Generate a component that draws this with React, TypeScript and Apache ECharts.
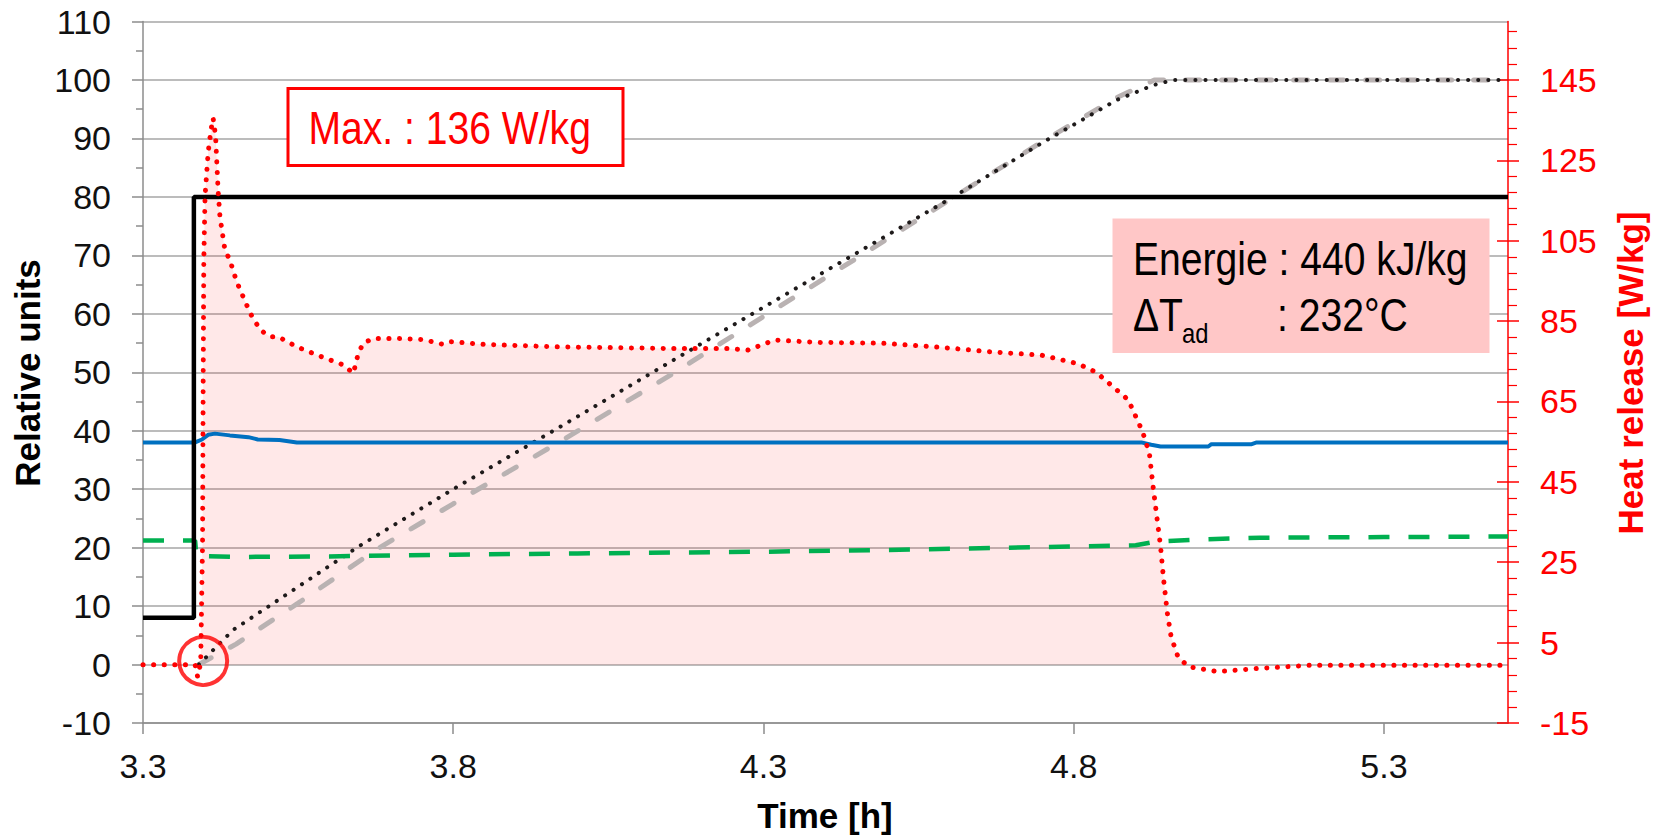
import React, { useEffect, useRef } from 'react';
import * as echarts from 'echarts';

// ---- axis ticks ----
const xTicks = [3.3, 3.8, 4.3, 4.8, 5.3];
const rightTicks = [-15, 5, 25, 45, 65, 85, 105, 125, 145];
const rightMin = -15;
const rightMax = 159.55; // aligned so that 145 W/kg sits on 100 relative units

// ---- black step (setpoint) ----
const stepTime = [3.3, 3.382, 3.382, 5.5];
const stepValue = [8, 8, 80, 80];

// ---- blue solid ----
const blueTime = [3.3, 3.384, 3.395, 3.405, 3.416, 3.44, 3.47, 3.485, 3.52, 3.548, 4.0, 4.5, 4.909, 4.925, 4.94, 5.017, 5.022, 5.087, 5.095, 5.5];
const blueValue = [38, 38, 38.5, 39.3, 39.5, 39.2, 38.9, 38.5, 38.4, 38, 38, 38, 38, 37.6, 37.3, 37.3, 37.7, 37.7, 38, 38];

// ---- green dashed ----
const greenTime = [3.3, 3.384, 3.386, 3.45, 3.6, 3.8, 4.0, 4.3, 4.5, 4.8, 4.9, 4.93, 5.0, 5.1, 5.3, 5.5];
const greenValue = [21.2, 21.2, 18.6, 18.4, 18.5, 18.8, 19.0, 19.3, 19.6, 20.2, 20.4, 21.0, 21.4, 21.7, 21.8, 21.9];

// ---- grey dashed ----
const greyTime = [3.39, 3.45, 3.55, 3.675, 3.8, 3.97, 4.15, 4.277, 4.45, 4.6, 4.75, 4.87, 4.93, 5.0, 5.5];
const greyValue = [0, 3.5, 10.5, 19.6, 27.5, 38.0, 49.5, 58.0, 69.5, 79.5, 89.5, 97, 100, 100, 100];

// ---- black dotted ----
const dotTime = [3.39, 3.445, 3.55, 3.646, 3.8, 3.968, 4.192, 4.4, 4.606, 4.75, 4.87, 4.928, 4.96, 5.1, 5.5];
const dotValue = [0, 5.9, 13.3, 20.1, 30, 40.4, 54.4, 67.3, 80.0, 89.3, 96.6, 99.1, 100, 100, 100];

// ---- heat release [W/kg] (right axis) ----
const heatTime = [3.3, 3.35, 3.384, 3.388, 3.393, 3.396, 3.397, 3.398, 3.4, 3.405, 3.4095, 3.413, 3.417, 3.421, 3.424, 3.432, 3.44, 3.451, 3.473, 3.489, 3.505, 3.518, 3.548, 3.58, 3.623, 3.639, 3.647, 3.655, 3.671, 3.709, 3.752, 3.784, 3.796, 3.85, 3.968, 4.145, 4.243, 4.275, 4.318, 4.387, 4.491, 4.577, 4.663, 4.749, 4.807, 4.836, 4.87, 4.888, 4.911, 4.922, 4.928, 4.934, 4.94, 4.945, 4.951, 4.957, 4.968, 4.985, 5.031, 5.1, 5.185, 5.5];
const heatValue = [-0.5, -0.5, -0.5, -3.5, 0, 30, 70, 100, 116, 127, 132.5, 135.5, 131, 117.6, 111, 102.7, 100.2, 94.8, 86.9, 82.8, 81.1, 81.1, 78.6, 76.6, 74.1, 72, 77, 79.5, 80.7, 80.7, 80.4, 79.2, 79.9, 79.2, 78.6, 78.2, 78.2, 77.8, 80.3, 79.7, 79.5, 78.6, 77.4, 76.5, 74.4, 72.3, 67.8, 65.4, 57.5, 52.1, 43.8, 36.3, 28.9, 20.6, 12.3, 6.5, 1.5, -1.0, -2.2, -1.4, -0.6, -0.6];
const heatBase = -0.5;

// ---- marker circle ----
const startPoint = [3.397, 0.6];

const pairs = (t: number[], v: number[]) => t.map((x, i) => [x, v[i]]);

const FONT = '"Liberation Sans", Arial, sans-serif';

export default function App() {
  const ref = useRef<HTMLDivElement>(null);
  useEffect(() => {
    document.body.style.margin = '0';
    const chart = echarts.init(ref.current!, null, { renderer: 'svg' });
    const grey = '#8c8c8c';
    const txt = (extra: any) => ({ align: 'left', verticalAlign: 'middle', textAlign: 'left', textVerticalAlign: 'middle', fontFamily: FONT, ...extra });
    const option: any = {
      animation: false,
      backgroundColor: '#ffffff',
      grid: { left: 143, right: 148, top: 21.5, bottom: 113, containLabel: false },
      xAxis: {
        type: 'value', min: 3.3, max: 5.5, interval: 0.5,
        axisLine: { show: true, onZero: false, lineStyle: { color: grey, width: 1.5 } },
        axisTick: { show: true, length: 11, customValues: xTicks, lineStyle: { color: grey, width: 1.5 } },
        axisLabel: { customValues: xTicks, margin: 26, fontSize: 34, color: '#111', fontFamily: FONT, formatter: (v: number) => v.toFixed(1) },
        splitLine: { show: false },
      },
      yAxis: [
        {
          type: 'value', min: -10, max: 110, interval: 10, position: 'left',
          axisLine: { show: true, lineStyle: { color: grey, width: 1.5 } },
          axisTick: { show: true, length: 11, lineStyle: { color: grey, width: 1.5 } },
          minorTick: { show: true, splitNumber: 2, length: 7, lineStyle: { color: grey, width: 1.5 } },
          axisLabel: { margin: 32, fontSize: 34, color: '#111', fontFamily: FONT },
          splitLine: { show: true, lineStyle: { color: '#a6a6a6', width: 1.5 } },
        },
        {
          type: 'value', min: rightMin, max: rightMax, interval: 20, position: 'right',
          axisLine: { show: true, lineStyle: { color: '#ff0000', width: 1.5 } },
          axisTick: { show: true, length: 11, customValues: rightTicks, lineStyle: { color: '#ff0000', width: 1.5 } },
          minorTick: { show: true, splitNumber: 5, length: 9, lineStyle: { color: '#ff0000', width: 1.2 } },
          axisLabel: { customValues: rightTicks, margin: 32, fontSize: 34, color: '#ff0000', fontFamily: FONT },
          splitLine: { show: false },
        },
        {
          type: 'value', min: rightMin, max: rightMax, interval: 20, position: 'right',
          axisLine: { show: false },
          axisTick: { show: true, inside: true, length: 11, customValues: rightTicks, lineStyle: { color: '#ff0000', width: 1.5 } },
          axisLabel: { show: false },
          splitLine: { show: false },
        },
      ],
      series: [
        {
          name: 'heatArea', type: 'line', yAxisIndex: 1, symbol: 'none', silent: true,
          data: pairs(heatTime, heatValue.map((v) => Math.max(v, heatBase))),
          lineStyle: { width: 0 },
          areaStyle: { color: 'rgba(250,0,0,0.13)', origin: heatBase },
          z: 1,
        },
        {
          name: 'grey', type: 'line', symbol: 'none', silent: true,
          data: pairs(greyTime, greyValue),
          lineStyle: { color: '#b9b2b2', width: 5, type: [14, 22], cap: 'round' },
          z: 3,
        },
        {
          name: 'dotted', type: 'line', symbol: 'none', silent: true,
          data: pairs(dotTime, dotValue),
          lineStyle: { color: '#1e1a1a', width: 4, type: [0.1, 10], cap: 'round' },
          z: 4,
        },
        {
          name: 'green', type: 'line', symbol: 'none', silent: true,
          data: pairs(greenTime, greenValue),
          lineStyle: { color: '#00b050', width: 4.5, type: [21, 19] },
          z: 4,
        },
        {
          name: 'blue', type: 'line', symbol: 'none', silent: true,
          data: pairs(blueTime, blueValue),
          lineStyle: { color: '#0070c0', width: 4 },
          z: 4,
        },
        {
          name: 'step', type: 'line', symbol: 'none', silent: true,
          data: pairs(stepTime, stepValue),
          lineStyle: { color: '#000000', width: 4.5 },
          z: 5,
        },
        {
          name: 'heat', type: 'line', yAxisIndex: 1, symbol: 'none', silent: true,
          data: pairs(heatTime, heatValue),
          lineStyle: { color: '#ff0000', width: 5, type: [0.1, 10.5], cap: 'round' },
          z: 6,
        },
        {
          name: 'start', type: 'scatter', silent: true,
          data: [startPoint],
          symbol: 'circle', symbolSize: 48,
          itemStyle: { color: 'rgba(0,0,0,0)', borderColor: '#ff0000', borderWidth: 4 },
          z: 7,
        },
      ],
      graphic: [
        { type: 'rect', z: 100, shape: { x: 288, y: 88.5, width: 335, height: 77 }, style: { fill: '#ffffff', stroke: '#ff0000', lineWidth: 3 } },
        { type: 'text', z: 101, x: 308.5, y: 128, scaleX: 0.85, style: txt({ text: 'Max. : 136 W/kg', fill: '#ff0000', fontSize: 46 }) },
        { type: 'rect', z: 100, shape: { x: 1112.5, y: 218.5, width: 377, height: 134.5 }, style: { fill: '#ffc7c7' } },
        { type: 'text', z: 101, x: 1133, y: 259, scaleX: 0.85, style: txt({ text: 'Energie : 440 kJ/kg', fill: '#000000', fontSize: 46 }) },
        { type: 'text', z: 101, x: 1133, y: 315, scaleX: 0.85, style: txt({ text: 'ΔT', fill: '#000000', fontSize: 46 }) },
        { type: 'text', z: 101, x: 1182, y: 333, scaleX: 0.85, style: txt({ text: 'ad', fill: '#000000', fontSize: 28 }) },
        { type: 'text', z: 101, x: 1277, y: 315, scaleX: 0.85, style: txt({ text: ': 232°C', fill: '#000000', fontSize: 46 }) },
        { type: 'text', z: 101, x: 27, y: 373, rotation: Math.PI / 2, style: { text: 'Relative units', fill: '#000000', fontSize: 35, fontWeight: 'bold', fontFamily: FONT, align: 'center', verticalAlign: 'middle', textAlign: 'center', textVerticalAlign: 'middle' } },
        { type: 'text', z: 101, x: 825, y: 815, style: { text: 'Time [h]', fill: '#000000', fontSize: 35, fontWeight: 'bold', fontFamily: FONT, align: 'center', verticalAlign: 'middle', textAlign: 'center', textVerticalAlign: 'middle' } },
        { type: 'text', z: 101, x: 1630, y: 373, rotation: Math.PI / 2, style: { text: 'Heat release [W/kg]', fill: '#ff0000', fontSize: 35, fontWeight: 'bold', fontFamily: FONT, align: 'center', verticalAlign: 'middle', textAlign: 'center', textVerticalAlign: 'middle' } },
      ],
    };
    chart.setOption(option);
    return () => chart.dispose();
  }, []);
  return <div ref={ref} style={{ position: 'fixed', left: 0, top: 0, width: 1656, height: 836 }} />;
}
